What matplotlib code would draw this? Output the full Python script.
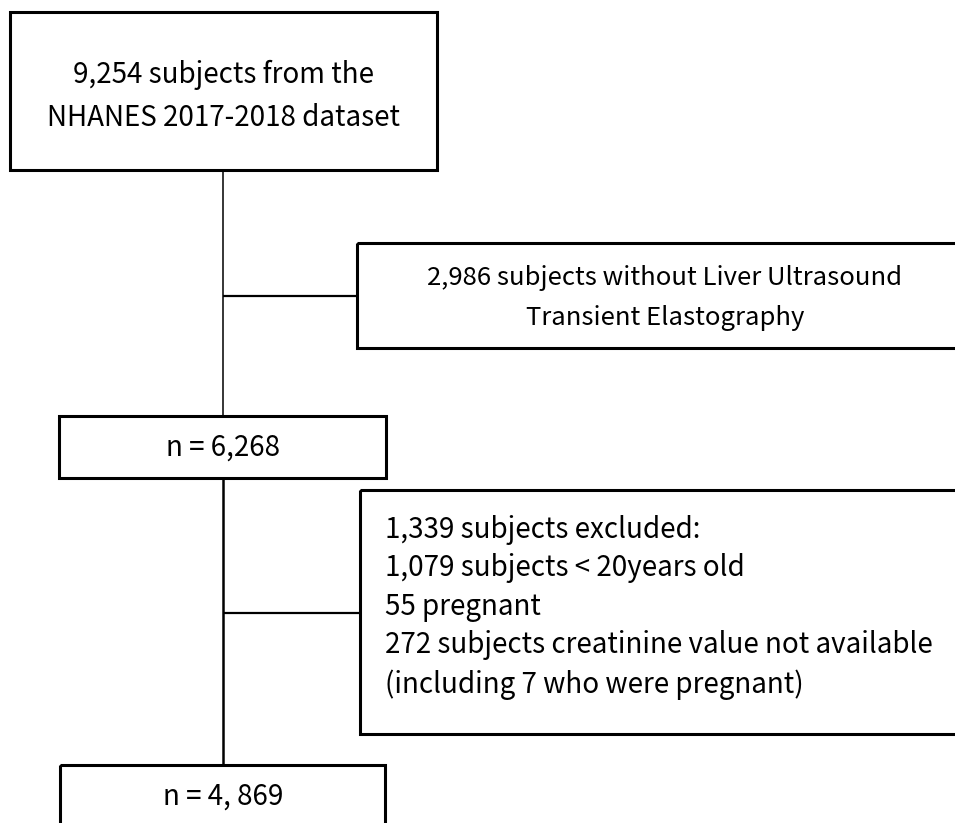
import matplotlib.pyplot as plt
from matplotlib.patches import Rectangle

plt.rcParams['font.family'] = ['Noto Sans CJK SC', 'DejaVu Sans']

# flowchart texts
start_lines = ["9,254 subjects from the", "NHANES 2017-2018 dataset"]
excl1_lines = ["2,986 subjects without Liver Ultrasound", "Transient Elastography"]
mid_label = "n = 6,268"
excl2_lines = ["1,339 subjects excluded:",
               "1,079 subjects < 20years old",
               "55 pregnant",
               "272 subjects creatinine value not available",
               "(including 7 who were pregnant)"]
final_label = "n = 4, 869"

fig = plt.figure(figsize=(9.55, 8.23), dpi=100)
ax = fig.add_axes([0, 0, 1, 1])
ax.set_xlim(0, 955)
ax.set_ylim(823, 0)
ax.axis('off')

FS = 20


def box(x0, y0, x1, y1, lw=2.2):
    ax.add_patch(Rectangle((x0, y0), x1 - x0, y1 - y0, fill=False,
                           edgecolor='black', linewidth=lw, clip_on=True))


def line(xs, ys, lw=1.6):
    ax.plot(xs, ys, color='black', linewidth=lw, solid_capstyle='butt')


# boxes
box(10, 12, 437, 170)
box(357, 243, 975, 348)
box(59, 416, 386, 478)
box(360, 490, 975, 734)
box(60, 765, 385, 860)

# connectors
cx = 223
line([cx, cx], [170, 416], lw=1.1)
line([cx, 357], [296, 296])
line([cx, cx], [478, 765], lw=1.8)
line([cx, 360], [613, 613])

# texts
kw = dict(fontweight='light')
for t, y in zip(start_lines, [75, 118]):
    ax.text(cx, y, t, ha='center', va='center', fontsize=FS, **kw)
for t, y in zip(excl1_lines, [278, 318]):
    ax.text(665, y, t, ha='center', va='center', fontsize=18.5, **kw)
ax.text(cx, 448, mid_label, ha='center', va='center', fontsize=FS, **kw)
for i, (t, y) in enumerate(zip(excl2_lines, [530, 568, 607, 645, 685])):
    w = 'normal' if i == len(excl2_lines) - 1 else 'light'
    ax.text(385, y, t, ha='left', va='center', fontsize=FS, fontweight=w)
ax.text(cx, 797, final_label, ha='center', va='center', fontsize=FS, **kw)

fig.savefig('out.png', dpi=100, facecolor='white')
